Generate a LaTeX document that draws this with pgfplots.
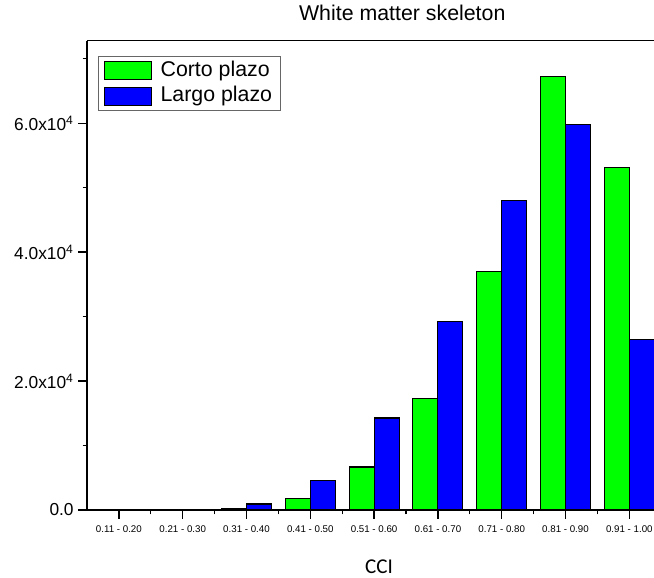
\documentclass[border=0pt]{standalone}
\usepackage{fontspec}
\setmainfont{Liberation Sans}
\newfontfamily\carlito{Carlito}
\usepackage{pgfplots}
\pgfplotsset{compat=1.18}
\usetikzlibrary{calc}
\definecolor{cortogreen}{RGB}{0,255,0}
\definecolor{largoblue}{RGB}{0,0,255}

\begin{document}
\begin{tikzpicture}
\begin{axis}[
    ybar,
    scale only axis,
    width=425.25pt, height=352pt,
    xmin=0.5, xmax=9.387,
    ymin=0, ymax=72800,
    axis y line*=left,
    axis x line*=box,
    axis line style={line width=1.1pt},
    xtick={1,...,9},
    xticklabels={0.11 - 0.20, 0.21 - 0.30, 0.31 - 0.40, 0.41 - 0.50, 0.51 - 0.60,
                 0.61 - 0.70, 0.71 - 0.80, 0.81 - 0.90, 0.91 - 1.00},
    minor xtick={1.5,2.5,...,9.5},
    ytick={0,20000,40000,60000},
    yticklabels={0.0, 2.0x10\textsuperscript{4}, 4.0x10\textsuperscript{4}, 6.0x10\textsuperscript{4}},
    minor ytick={10000,30000,50000,70000},
    xtick pos=bottom, ytick pos=left,
    tick align=outside,
    major tick length=6.5pt, minor tick length=3.2pt,
    every tick/.style={black, line width=1pt},
    x tick label style={font=\fontsize{7.3}{8}\selectfont, yshift=-2pt},
    y tick label style={font=\fontsize{13}{14}\selectfont},
    scaled y ticks=false,
    bar width=0.392,
    title={White matter skeleton},
    title style={font=\fontsize{16}{18}\selectfont, at={(axis description cs:0.556,1)}, anchor=base, yshift=9.3pt},
    xlabel={CCI},
    xlabel style={font=\carlito\fontsize{15.8}{18}\selectfont, at={(axis description cs:0.515,0)}, anchor=base, yshift=-47.5pt},
    legend cell align=left,
    legend image code/.code={\draw[#1] (0pt,-6.75pt) rectangle (35.25pt,6.75pt); \path (39.5pt,0pt);},
    legend style={at={(axis description cs:0.02,0.9665)}, anchor=north west,
        draw=black!60, line width=0.8pt, font=\fontsize{16}{19}\selectfont,
        inner xsep=3.5pt, inner ysep=1pt, row sep=0pt,
        nodes={inner ysep=1.5pt, inner xsep=2.5pt, text height=12pt, text depth=4pt}},
]
\addplot[fill=cortogreen, draw=black, line width=0.8pt, bar shift=-0.196] coordinates {
    (1,10) (2,80) (3,270) (4,1750) (5,6670) (6,17270) (7,37000) (8,67300) (9,53100)
};
\addplot[fill=largoblue, draw=black, line width=0.8pt, bar shift=0.196] coordinates {
    (1,20) (2,150) (3,930) (4,4550) (5,14270) (6,29200) (7,48000) (8,59800) (9,26500)
};
\legend{Corto plazo, Largo plazo}
\end{axis}
\pgfresetboundingbox
\path[use as bounding box] ($(current axis.south west)+(-65.25pt,-50.25pt)$) rectangle ($(current axis.north east)+(0pt,30.5pt)$);
\end{tikzpicture}
\end{document}
